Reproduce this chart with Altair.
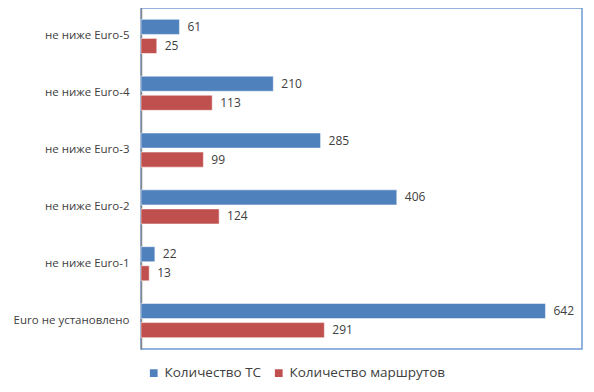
import altair as alt
import pandas as pd

categories = ["не ниже Euro-5", "не ниже Euro-4", "не ниже Euro-3",
              "не ниже Euro-2", "не ниже Euro-1", "Euro не установлено"]
series_names = ["Количество ТС", "Количество маршрутов"]
vehicles = [61, 210, 285, 406, 22, 642]
routes = [25, 113, 99, 124, 13, 291]
colors = ["#4F81BD", "#C0504D"]

rows = []
for c, v, r in zip(categories, vehicles, routes):
    rows.append({"cat": c, "series": series_names[0], "value": v})
    rows.append({"cat": c, "series": series_names[1], "value": r})
df = pd.DataFrame(rows)

font = "Open Sans"

y_enc = alt.Y("cat:N", sort=categories, title=None,
              scale=alt.Scale(paddingInner=0.40, paddingOuter=0.2),
              axis=alt.Axis(domainColor="#868686", domainWidth=1.5, ticks=False,
                            labelPadding=12, labelFontSize=11.5, labelColor="#404040",
                            labelFont=font, grid=False))
x_enc = alt.X("value:Q", title=None, scale=alt.Scale(domain=[0, 700], nice=False),
              axis=None)
yoff = alt.YOffset("series:N", sort=series_names,
                   scale=alt.Scale(paddingInner=0.21, paddingOuter=0))
color_enc = alt.Color("series:N", sort=series_names,
                      scale=alt.Scale(domain=series_names, range=colors),
                      legend=alt.Legend(title=None, orient="none", direction="horizontal",
                                        legendX=6, legendY=358,
                                        symbolType="square", symbolSize=60,
                                        symbolStrokeWidth=0,
                                        labelFontSize=13.5, labelFont=font,
                                        labelColor="#404040", columnPadding=10,
                                        labelOffset=4))

bars = alt.Chart(df).mark_bar(stroke="white", strokeWidth=0.5).encode(
    y=y_enc, x=x_enc, yOffset=yoff, color=color_enc)

labels = alt.Chart(df).mark_text(align="left", baseline="middle", dx=8,
                                 fontSize=12, font=font, color="#404040").encode(
    y=alt.Y("cat:N", sort=categories), x="value:Q", yOffset=yoff,
    text="value:Q")

chart = (bars + labels).properties(
    width=441, height=341,
    autosize=alt.AutoSizeParams(type="none"),
    padding={"left": 133, "top": 0, "right": 4, "bottom": 35},
).configure_view(stroke="#6F9BD4", strokeWidth=1.5)

chart.save("out.html", embed_options={"renderer": "svg", "actions": False})
